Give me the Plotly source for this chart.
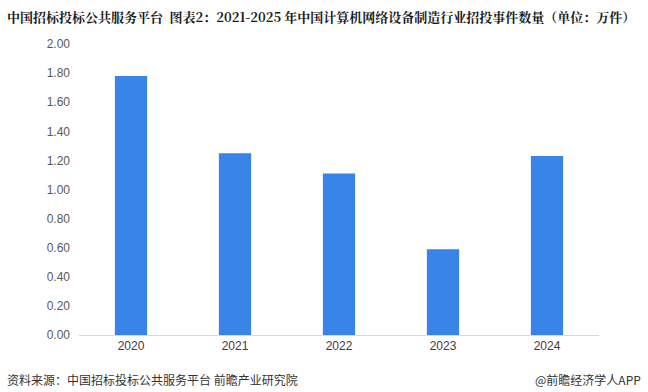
import plotly.graph_objects as go

years = ["2020", "2021", "2022", "2023", "2024"]
values = [1.78, 1.25, 1.11, 0.59, 1.23]
y_ticks = [0.0, 0.2, 0.4, 0.6, 0.8, 1.0, 1.2, 1.4, 1.6, 1.8, 2.0]

title_text = "中国招标投标公共服务平台  图表2：2021-2025 年中国计算机网络设备制造行业招投事件数量（单位：万件）"
source_text = "资料来源：中国招标投标公共服务平台 前瞻产业研究院"
brand_text = "@前瞻经济学人APP"

fig = go.Figure(go.Bar(x=years, y=values, width=0.31, marker_color="#3884E8",
                       marker_line_width=0))

fig.update_layout(
    width=648, height=392,
    margin=dict(l=79, r=49, t=44, b=57),
    plot_bgcolor="white", paper_bgcolor="white",
    showlegend=False,
    font=dict(family="Noto Sans CJK SC, Liberation Sans, sans-serif", color="#595959", size=12),
)
fig.update_yaxes(range=[0, 2], tickvals=y_ticks, tickformat=".2f", showgrid=False,
                 zeroline=False, showline=False, ticks="", ticklabelstandoff=8,
                 tickfont=dict(family="Liberation Sans, Arial, sans-serif", size=12, color="#595959"))
fig.update_xaxes(showline=True, linecolor="#d9d9d9", linewidth=1, ticks="",
                 showgrid=False,
                 tickfont=dict(family="Liberation Sans, Arial, sans-serif", size=12, color="#404040"))

fig.add_annotation(text="<b>" + title_text + "</b>", xref="paper", yref="paper",
                   x=0, y=1, xanchor="left", yanchor="middle", showarrow=False,
                   font=dict(family="Noto Serif CJK SC, Noto Sans CJK SC, serif", size=13, color="#1a1a1a"))
fig.add_annotation(text=source_text, xref="paper", yref="paper",
                   x=0, y=0, xanchor="left", yanchor="middle", showarrow=False,
                   font=dict(family="Noto Sans CJK SC, sans-serif", size=12, color="#333333"))
fig.add_annotation(text=brand_text, xref="paper", yref="paper",
                   x=1, y=0, xanchor="right", yanchor="middle", showarrow=False,
                   font=dict(family="Noto Sans CJK SC, sans-serif", size=12, color="#333333"))

# place annotations in pixel terms via container references
fig.layout.annotations[0].update(xref="paper", yref="paper")
fig.update_layout(annotations=[
    dict(fig.layout.annotations[0].to_plotly_json(), x=-79/520 + 5/520, y=1 + (44-17)/291),
    dict(fig.layout.annotations[1].to_plotly_json(), x=-79/520 + 5/520, y=-(380-335)/291),
    dict(fig.layout.annotations[2].to_plotly_json(), x=1 + (643-599)/520, y=-(380-335)/291),
])

fig.write_html("out.html")
